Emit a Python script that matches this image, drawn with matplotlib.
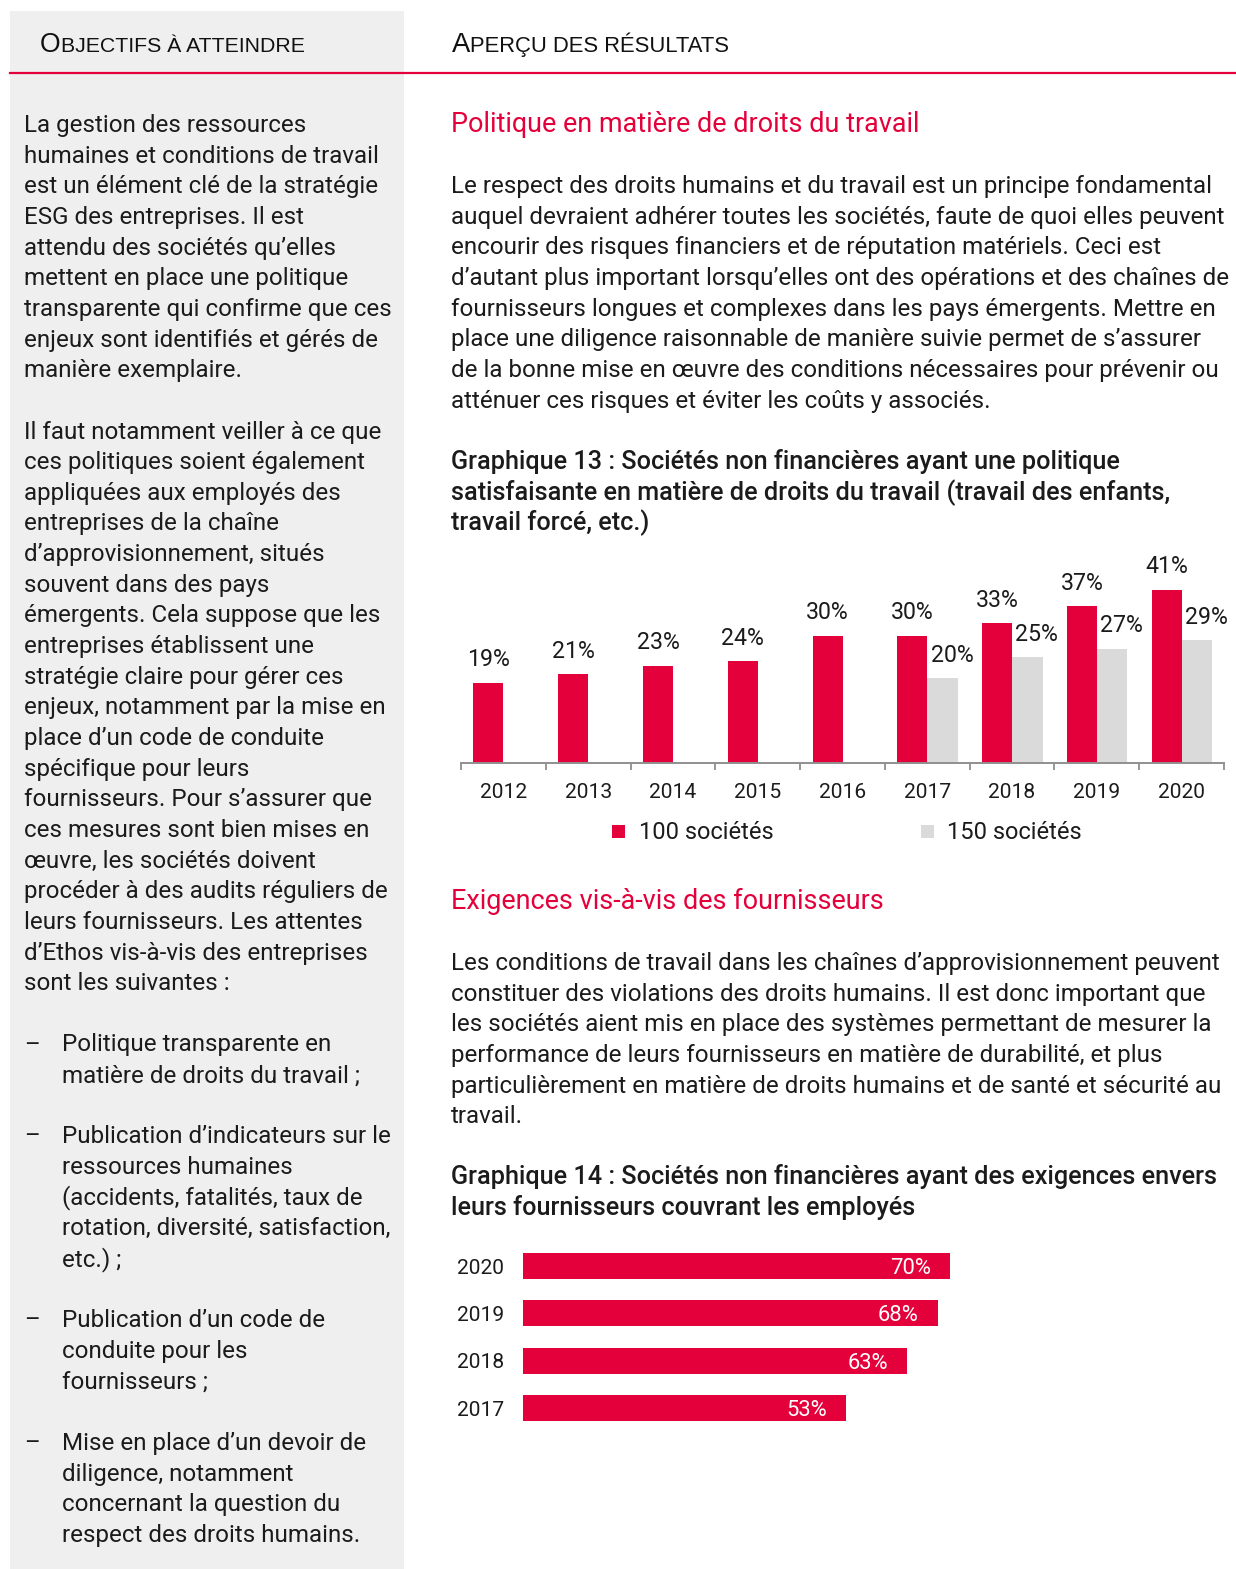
import matplotlib
matplotlib.use('Agg')
import matplotlib.pyplot as plt
from matplotlib.patches import Rectangle
from matplotlib.lines import Line2D
import numpy as np

# ---------------- data ----------------
years13 = ['2012', '2013', '2014', '2015', '2016', '2017', '2018', '2019', '2020']
pct100 = [19, 21, 23, 24, 30, 30, 33, 37, 41]
pct150 = [np.nan, np.nan, np.nan, np.nan, np.nan, 20, 25, 27, 29]
legend13 = ['100 sociétés', '150 sociétés']

years14 = ['2017', '2018', '2019', '2020']
pct14 = [53, 63, 68, 70]

left_lines = [
    'La gestion des ressources',
    'humaines et conditions de travail',
    'est un élément clé de la stratégie',
    'ESG des entreprises. Il est',
    'attendu des sociétés qu’elles',
    'mettent en place une politique',
    'transparente qui confirme que ces',
    'enjeux sont identifiés et gérés de',
    'manière exemplaire.',
    '',
    'Il faut notamment veiller à ce que',
    'ces politiques soient également',
    'appliquées aux employés des',
    'entreprises de la chaîne',
    'd’approvisionnement, situés',
    'souvent dans des pays',
    'émergents. Cela suppose que les',
    'entreprises établissent une',
    'stratégie claire pour gérer ces',
    'enjeux, notamment par la mise en',
    'place d’un code de conduite',
    'spécifique pour leurs',
    'fournisseurs. Pour s’assurer que',
    'ces mesures sont bien mises en',
    'œuvre, les sociétés doivent',
    'procéder à des audits réguliers de',
    'leurs fournisseurs. Les attentes',
    'd’Ethos vis-à-vis des entreprises',
    'sont les suivantes :',
    '',
    '–\tPolitique transparente en',
    '\tmatière de droits du travail ;',
    '',
    '–\tPublication d’indicateurs sur le',
    '\tressources humaines',
    '\t(accidents, fatalités, taux de',
    '\trotation, diversité, satisfaction,',
    '\tetc.) ;',
    '',
    '–\tPublication d’un code de',
    '\tconduite pour les',
    '\tfournisseurs ;',
    '',
    '–\tMise en place d’un devoir de',
    '\tdiligence, notamment',
    '\tconcernant la question du',
    '\trespect des droits humains.',
]

heading1 = 'Politique en matière de droits du travail'
para1 = [
    'Le respect des droits humains et du travail est un principe fondamental',
    'auquel devraient adhérer toutes les sociétés, faute de quoi elles peuvent',
    'encourir des risques financiers et de réputation matériels. Ceci est',
    'd’autant plus important lorsqu’elles ont des opérations et des chaînes de',
    'fournisseurs longues et complexes dans les pays émergents. Mettre en',
    'place une diligence raisonnable de manière suivie permet de s’assurer',
    'de la bonne mise en œuvre des conditions nécessaires pour prévenir ou',
    'atténuer ces risques et éviter les coûts y associés.',
]
title13 = [
    'Graphique 13 : Sociétés non financières ayant une politique',
    'satisfaisante en matière de droits du travail (travail des enfants,',
    'travail forcé, etc.)',
]
heading2 = 'Exigences vis-à-vis des fournisseurs'
para2 = [
    'Les conditions de travail dans les chaînes d’approvisionnement peuvent',
    'constituer des violations des droits humains. Il est donc important que',
    'les sociétés aient mis en place des systèmes permettant de mesurer la',
    'performance de leurs fournisseurs en matière de durabilité, et plus',
    'particulièrement en matière de droits humains et de santé et sécurité au',
    'travail.',
]
title14 = [
    'Graphique 14 : Sociétés non financières ayant des exigences envers',
    'leurs fournisseurs couvrant les employés',
]
header_left = 'Objectifs à atteindre'
header_right = 'Aperçu des résultats'

# ---------------- style ----------------
W, H, DPI = 1236, 1569, 100
RED = '#e4003a'
GREY_BAR = '#dadada'
PANEL = '#efefef'
INK = '#1b1b1b'
FAM = 'Roboto'
HFAM = 'Liberation Sans'
BODY_W = 'normal'

fig = plt.figure(figsize=(W / DPI, H / DPI), dpi=DPI)
fig.patch.set_facecolor('white')
renderer = fig.canvas.get_renderer()


def fx(px):
    return px / W


def fy(py):
    return 1 - py / H


def width_px(s, size, family=FAM, **kw):
    t = fig.text(0, 0, s, fontsize=size, family=family, **kw)
    w = t.get_window_extent(renderer).width
    t.remove()
    return w


def fit(s, target, **kw):
    return 20 * target / width_px(s, 20, **kw)


def put(x, y, s, size, family=FAM, **kw):
    return fig.text(fx(x), fy(y), s, fontsize=size, family=family, va='baseline', **kw)


# background panel and rule
fig.add_artist(Rectangle((fx(10), fy(1569)), fx(404) - fx(10), fy(11) - fy(1569),
                         transform=fig.transFigure, facecolor=PANEL, edgecolor='none', zorder=0))
fig.add_artist(Line2D([fx(10), fx(1236)], [fy(73), fy(73)], transform=fig.transFigure,
                      color=RED, lw=1.6, zorder=1))


# small caps headers
def smallcaps(x, y, s, target):
    ratio = 0.8
    w_ref = width_px(s[0], 20, family=HFAM) + width_px(s[1:].upper(), 20 * ratio, family=HFAM)
    big = 20 * target / w_ref
    small = big * ratio
    put(x, y, s[0], big, family=HFAM, color='#111111')
    w0 = width_px(s[0], big, family=HFAM)
    put(x + w0, y, s[1:].upper(), small, family=HFAM, color='#111111')


smallcaps(40, 52, header_left, 265)
smallcaps(452, 52, header_right, 279)

# font sizes fitted to reference widths
body_size = fit(para1[0], 757, weight=BODY_W)
title_size = fit(title13[1], 719, weight='medium')
head_size = fit(heading1, 468, weight='normal')

PITCH = 30.65
# left column
for k, line in enumerate(left_lines):
    if not line:
        continue
    yb = 123 + PITCH * k + 9
    if line.startswith('–\t'):
        put(24, yb, '–', body_size, color=INK, weight=BODY_W)
        put(62, yb, line[2:], body_size, color=INK, weight=BODY_W)
    elif line.startswith('\t'):
        put(62, yb, line[1:], body_size, color=INK, weight=BODY_W)
    else:
        put(24, yb, line, body_size, color=INK, weight=BODY_W)

# right column
put(451, 123 + 9, heading1, head_size, color=RED)
for k, line in enumerate(para1):
    put(451, 184 + PITCH * k + 9, line, body_size, color=INK, weight=BODY_W)
for k, line in enumerate(title13):
    put(451, 460 + PITCH * k + 9, line, title_size, color=INK, weight='medium')

put(451, 900 + 9, heading2, head_size, color=RED)
for k, line in enumerate(para2):
    put(451, 961 + PITCH * k + 9, line, body_size, color=INK, weight=BODY_W)
for k, line in enumerate(title14):
    put(451, 1175 + PITCH * k + 9, line, title_size, color=INK, weight='medium')

# ---------------- chart 13 ----------------
tick_size = fit('2012', 47, weight=BODY_W)
val_size = fit('19%', 43, weight=BODY_W)
leg_size = fit(legend13[0], 134, weight=BODY_W)

PX_PER_PCT = 4.23
ax1 = fig.add_axes([fx(461), fy(763), fx(1224) - fx(461), (763 - 545) / H])
ax1.set_xlim(-0.5, len(years13) - 0.5)
ax1.set_ylim(0, (763 - 545) / PX_PER_PCT)
x = np.arange(len(years13))
bw = 30 / 84.8
ax1.bar(x - bw, pct100, width=bw, align='edge', color=RED, zorder=2)
ax1.bar(x, pct150, width=bw * 1.02, align='edge', color=GREY_BAR, zorder=2)
ax1.patch.set_alpha(0)
for side in ['top', 'left', 'right']:
    ax1.spines[side].set_visible(False)
ax1.spines['bottom'].set_color('#8f8f8f')
ax1.spines['bottom'].set_linewidth(1.4)
ax1.set_yticks([])
ax1.set_xticks(x, years13)
ax1.set_xticks(np.arange(-0.5, len(years13)), minor=True)
ax1.tick_params(axis='x', which='major', length=0, pad=14.5, labelsize=tick_size, labelcolor=INK)
ax1.tick_params(axis='x', which='minor', length=5, width=1.3, color='#8f8f8f', direction='out')
for lab in ax1.get_xticklabels():
    lab.set_family(FAM)
    lab.set_weight(BODY_W)

for xi, v in zip(x, pct100):
    ax1.annotate(f'{v}%', (xi - bw / 2, v), xytext=(0, 12), textcoords='offset points',
                 ha='center', va='baseline', fontsize=val_size, family=FAM, weight=BODY_W, color=INK)
for xi, v in zip(x, pct150):
    if np.isnan(v):
        continue
    ax1.annotate(f'{v}%', (xi + bw / 2, v), xytext=(7, 12), textcoords='offset points',
                 ha='center', va='baseline', fontsize=val_size, family=FAM, weight=BODY_W, color=INK)

# legend
for (sx, tx), lab, col in zip([(612, 639), (921, 947)], legend13, [RED, GREY_BAR]):
    fig.add_artist(Rectangle((fx(sx), fy(838)), 13 / W, 13 / H, transform=fig.transFigure,
                             facecolor=col, edgecolor='none'))
    put(tx, 839, lab, leg_size, color=INK, weight=BODY_W)

# ---------------- chart 14 ----------------
ylab_size = fit('2020', 47, weight=BODY_W)
hval_size = fit('70%', 41, weight=BODY_W)
PX_PER_PCT2 = 6.1
step = 47.3
ax2 = fig.add_axes([fx(523), fy(1408 + step / 2), 700 / W, step * 4 / H])
ax2.set_xlim(0, 700 / PX_PER_PCT2)
ax2.set_ylim(-0.5, len(years14) - 0.5)
y = np.arange(len(years14))
ax2.barh(y, pct14, height=0.55, color=RED)
ax2.patch.set_alpha(0)
for side in ax2.spines:
    ax2.spines[side].set_visible(False)
ax2.set_xticks([])
ax2.set_yticks(y, years14)
ax2.tick_params(axis='y', length=0, pad=13.5, labelsize=ylab_size, labelcolor=INK)
for lab in ax2.get_yticklabels():
    lab.set_family(FAM)
    lab.set_weight(BODY_W)
for yi, v in zip(y, pct14):
    ax2.annotate(f'{v}%', (v, yi), xytext=(-13.7, 0), textcoords='offset points',
                 ha='right', va='center_baseline', fontsize=hval_size, family=FAM,
                 weight=BODY_W, color='white')

fig.savefig('out.png', dpi=DPI, facecolor='white')
